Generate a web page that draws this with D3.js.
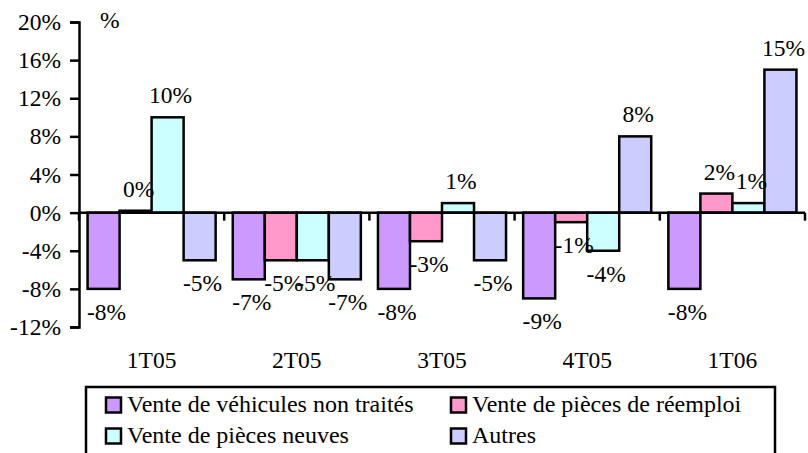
<!DOCTYPE html>
<html>
<head>
<meta charset="utf-8">
<script src="https://cdn.jsdelivr.net/npm/d3@7/dist/d3.min.js"></script>
<style>
  html, body { margin: 0; padding: 0; background: #fff; }
</style>
</head>
<body>
<svg id="chart" width="808" height="453"></svg>
<script>
// Quarterly change by activity (%)
const categories = ["1T05", "2T05", "3T05", "4T05", "1T06"];
const seriesNames = [
  "Vente de véhicules non traités",
  "Vente de pièces de réemploi",
  "Vente de pièces neuves",
  "Autres"
];
const vehicules = [-8, -7, -8, -9, -8];
const reemploi  = [0.2, -5, -3, -1, 2];
const neuves    = [10, -5, 1, -4, 1];
const autres    = [-5, -7, -5, 8, 15];
const yTicks    = [-12, -8, -4, 0, 4, 8, 12, 16, 20];
const colors    = ["#CC99FF", "#FF99CC", "#CCFFFF", "#CCCCFF"];

const seriesValues = [vehicules, reemploi, neuves, autres];
const rows = categories.map((c, i) => ({
  cat: c,
  vals: seriesValues.map((s, k) => ({ key: seriesNames[k], k, v: s[i] }))
}));

const FONT = "'Liberation Serif', 'Times New Roman', Tinos, 'DejaVu Serif', serif";
const svg = d3.select("#chart").attr("font-family", FONT);
const plotLeft = 79, plotRight = 805, plotTop = 22, plotBottom = 327;
const fontSize = 23.5;
const legendFont = 24;

const y = d3.scaleLinear().domain([-12, 20]).range([plotBottom, plotTop]);
const x0 = d3.scaleBand().domain(categories).range([plotLeft, plotRight])
  .paddingInner(0.118).paddingOuter(0.059);
const x1 = d3.scaleBand().domain(seriesNames).range([0, x0.bandwidth()]);

// Bars
const groups = svg.append("g").selectAll("g").data(rows).join("g")
  .attr("transform", d => `translate(${x0(d.cat)},0)`);

groups.selectAll("rect").data(d => d.vals).join("rect")
  .attr("x", d => x1(d.key))
  .attr("width", x1.bandwidth())
  .attr("y", d => y(Math.max(0, d.v)))
  .attr("height", d => Math.abs(y(d.v) - y(0)))
  .attr("fill", d => colors[d.k])
  .attr("stroke", "#000")
  .attr("stroke-width", 2.5);

// Value labels
groups.selectAll("text").data(d => d.vals).join("text")
  .attr("x", d => x1(d.key) + x1.bandwidth() / 2 + 3)
  .attr("y", d => d.v >= 0 ? y(d.v) - 14 : y(d.v) + 31)
  .attr("text-anchor", "middle")
  .attr("font-family", FONT)
  .attr("font-size", fontSize)
  .text(d => Math.round(d.v) + "%");

// Y axis
const yAxis = d3.axisLeft(y).tickValues(yTicks).tickSize(9).tickPadding(9)
  .tickFormat(d => d + "%");
const ya = svg.append("g").attr("transform", `translate(${plotLeft},0)`).call(yAxis);
ya.attr("font-family", FONT).attr("font-size", fontSize);
ya.select(".domain").attr("stroke", "#000").attr("stroke-width", 2.5);
ya.selectAll(".tick line").attr("stroke", "#000").attr("stroke-width", 2.5);
ya.selectAll(".tick text").attr("fill", "#000");

// Zero line with category separators
const step = x0.step();
svg.append("line")
  .attr("x1", plotLeft).attr("x2", plotRight)
  .attr("y1", y(0)).attr("y2", y(0))
  .attr("stroke", "#000").attr("stroke-width", 2.5);
svg.append("g").selectAll("line").data(d3.range(categories.length + 1)).join("line")
  .attr("x1", i => plotLeft + i * step).attr("x2", i => plotLeft + i * step)
  .attr("y1", y(0)).attr("y2", y(0) + 8)
  .attr("stroke", "#000").attr("stroke-width", 2.5);

// Category labels
svg.append("g").selectAll("text").data(categories).join("text")
  .attr("x", d => x0(d) + x0.bandwidth() / 2)
  .attr("y", 368)
  .attr("text-anchor", "middle")
  .attr("font-family", FONT)
  .attr("font-size", fontSize)
  .text(d => d);

// Unit label
svg.append("text").attr("x", 100).attr("y", 28)
  .attr("font-family", FONT)
  .attr("font-size", fontSize).text("%");

// Legend
const lg = svg.append("g");
lg.append("rect").attr("x", 86).attr("y", 387).attr("width", 689).attr("height", 80)
  .attr("fill", "#fff").attr("stroke", "#000").attr("stroke-width", 2.5);
const legendPos = [[106, 397.5], [451, 397.5], [106, 428.5], [451, 428.5]];
const items = lg.selectAll("g").data(seriesNames).join("g")
  .attr("transform", (d, i) => `translate(${legendPos[i][0]},${legendPos[i][1]})`);
items.append("rect").attr("width", 15).attr("height", 15)
  .attr("fill", (d, i) => colors[i]).attr("stroke", "#000").attr("stroke-width", 2.5);
items.append("text").attr("x", 21).attr("y", 14.5)
  .attr("font-family", FONT)
  .attr("font-size", legendFont).text(d => d);
</script>
</body>
</html>
